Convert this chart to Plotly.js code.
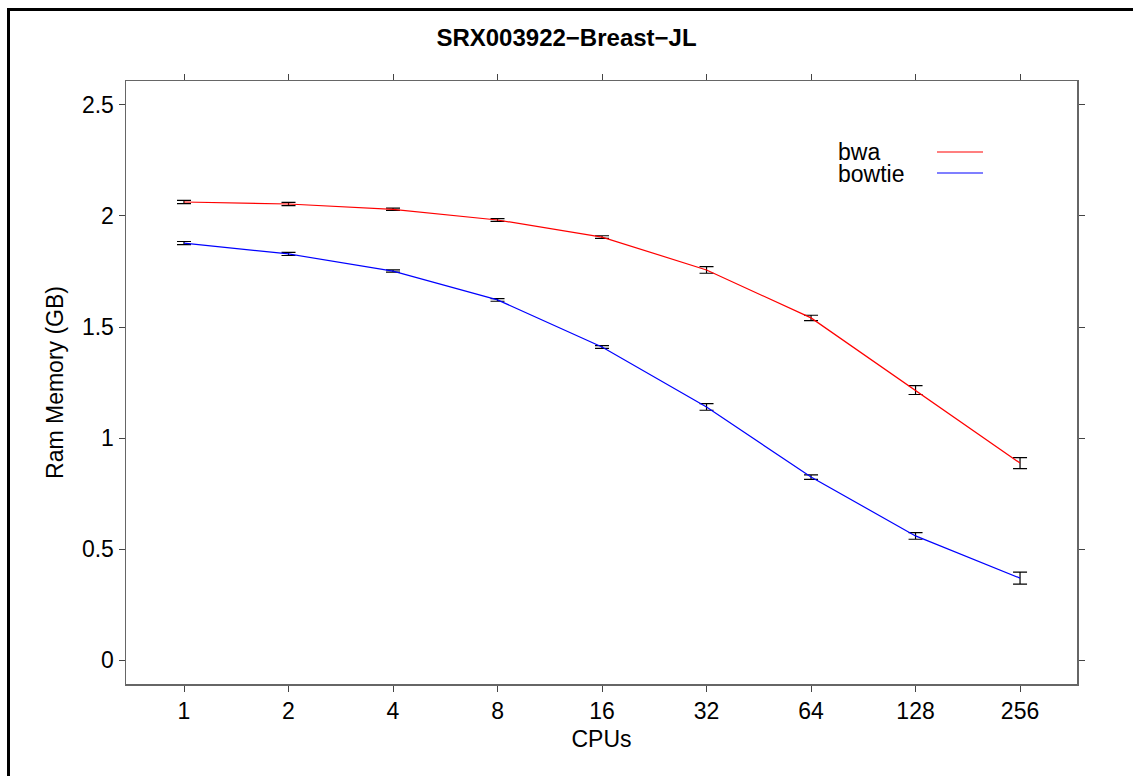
<!DOCTYPE html>
<html>
<head>
<meta charset="utf-8">
<script src="https://cdn.plot.ly/plotly-3.0.1.min.js"></script>
<style>
html,body{margin:0;padding:0;background:#fff;overflow:hidden;}
#chart{width:1133px;height:776px;position:absolute;left:0;top:0;}
#frame{position:absolute;left:7px;top:8px;width:1200px;height:900px;border-left:3px solid #000;border-top:3px solid #000;pointer-events:none;}
</style>
</head>
<body>
<div id="chart"></div>
<div id="frame"></div>
<script>
var cpus = ["1","2","4","8","16","32","64","128","256"];
var bwaMem = [2.063, 2.054, 2.030, 1.982, 1.905, 1.757, 1.541, 1.216, 0.887];
var bwaErr = [0.007, 0.007, 0.005, 0.006, 0.006, 0.015, 0.012, 0.020, 0.025];
var bowtieMem = [1.878, 1.829, 1.752, 1.622, 1.410, 1.140, 0.824, 0.559, 0.369];
var bowtieErr = [0.007, 0.007, 0.005, 0.006, 0.006, 0.015, 0.010, 0.015, 0.027];
var seriesNames = ["bwa", "bowtie"];
var seriesColors = ["#ff0000", "#0000ff"];

var idx = cpus.map(function(_, i){ return i; });

function mk(name, y, e, color){
  return {
    type: 'scatter', mode: 'lines', name: name,
    x: idx, y: y,
    line: {color: color, width: 1.2},
    error_y: {type: 'data', array: e, visible: true, color: '#000', thickness: 1.2, width: 7},
    showlegend: false
  };
}
var data = [
  mk(seriesNames[0], bwaMem, bwaErr, seriesColors[0]),
  mk(seriesNames[1], bowtieMem, bowtieErr, seriesColors[1])
];

var font = {family: 'Liberation Sans, Arial, sans-serif', size: 23, color: '#000'};
var layout = {
  width: 1133, height: 776,
  margin: {l: 126, r: 56, t: 81, b: 92},
  paper_bgcolor: '#fff', plot_bgcolor: '#fff',
  font: font,
  title: {text: '<b>SRX003922\u2212Breast\u2212JL</b>', x: 0.5, xanchor: 'center', y: 1 - 38/776, yanchor: 'middle',
          font: {family: 'Liberation Sans, Arial, sans-serif', size: 24, color: '#000'}},
  xaxis: {
    range: [-0.555, 8.545], tickmode: 'array', tickvals: idx, ticktext: cpus,
    showgrid: false, zeroline: false, showline: true, linecolor: '#666', linewidth: 1.5,
    mirror: 'ticks', ticks: 'outside', ticklen: 6, tickcolor: '#444', tickwidth: 1,
    tickfont: font,
    title: {text: 'CPUs', font: font, standoff: 8}
  },
  yaxis: {
    range: [-0.108, 2.608], tickmode: 'array', tickvals: [0, 0.5, 1, 1.5, 2, 2.5],
    ticktext: ['0', '0.5', '1', '1.5', '2', '2.5'],
    showgrid: false, zeroline: false, showline: true, linecolor: '#666', linewidth: 1.5,
    mirror: 'ticks', ticks: 'outside', ticklen: 6, tickcolor: '#444', tickwidth: 1,
    tickfont: font,
    title: {text: 'Ram Memory (GB)', font: font, standoff: 12}
  },
  annotations: [
    {xref: 'paper', yref: 'paper', x: (836-126)/951, y: (684-152)/603, xanchor: 'left', yanchor: 'middle',
     text: seriesNames[0], showarrow: false, font: font},
    {xref: 'paper', yref: 'paper', x: (836-126)/951, y: (684-174)/603, xanchor: 'left', yanchor: 'middle',
     text: seriesNames[1], showarrow: false, font: font}
  ],
  shapes: [
    {type: 'line', xref: 'paper', yref: 'paper', x0: (937-126)/951, x1: (983-126)/951,
     y0: (684-152)/603, y1: (684-152)/603, line: {color: seriesColors[0], width: 1.2}},
    {type: 'line', xref: 'paper', yref: 'paper', x0: (937-126)/951, x1: (983-126)/951,
     y0: (684-173)/603, y1: (684-173)/603, line: {color: seriesColors[1], width: 1.2}}
  ]
};
Plotly.newPlot('chart', data, layout, {displayModeBar: false, staticPlot: true});
</script>
</body>
</html>
